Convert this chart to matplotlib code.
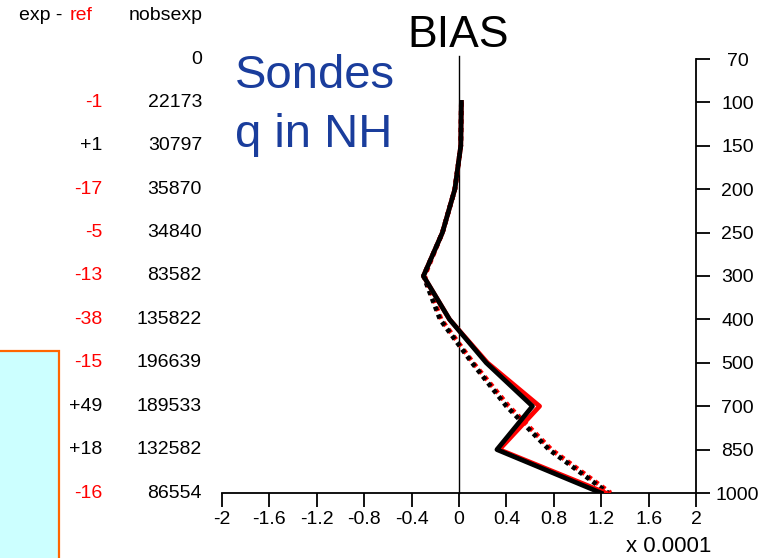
import matplotlib
matplotlib.use("Agg")
import matplotlib.pyplot as plt
from matplotlib import patches, transforms

plt.rcParams['font.family'] = ['Liberation Sans', 'DejaVu Sans']

# ---- data ----
levels = [70, 100, 150, 200, 250, 300, 400, 500, 700, 850, 1000]
line_levels = [100, 150, 200, 250, 300, 400, 500, 700, 850, 1000]
exp_solid = [0.02, 0.015, -0.035, -0.14, -0.30, -0.08, 0.23, 0.62, 0.32, 1.20]
ref_solid = [0.02, 0.015, -0.035, -0.14, -0.30, -0.08, 0.24, 0.68, 0.34, 1.24]
exp_dotted = [0.02, 0.015, -0.035, -0.14, -0.30, -0.16, 0.11, 0.40, 0.76, 1.26]
ref_dotted = [0.02, 0.015, -0.035, -0.14, -0.29, -0.15, 0.12, 0.42, 0.78, 1.28]
exp_minus_ref = ["", "-1", "+1", "-17", "-5", "-13", "-38", "-15", "+49", "+18", "-16"]
nobsexp = ["0", "22173", "30797", "35870", "34840", "83582", "135822",
           "196639", "189533", "132582", "86554"]
xticks = [-2, -1.6, -1.2, -0.8, -0.4, 0, 0.4, 0.8, 1.2, 1.6, 2]
xtick_labels = ["-2", "-1.6", "-1.2", "-0.8", "-0.4", "0", "0.4", "0.8", "1.2", "1.6", "2"]

W, H = 772, 558
fig = plt.figure(figsize=(W / 100, H / 100), dpi=100)
fig.patch.set_facecolor('white')

ax = fig.add_axes([222 / W, 1 - 493 / H, (696 - 222) / W, (493 - 59) / H])
ax.set_facecolor('none')

ypos = {lev: i for i, lev in enumerate(levels)}
yl = [ypos[l] for l in line_levels]

# lines: red (ref) first, black (exp) on top
ax.plot(ref_dotted, yl, color='red', lw=3.4, linestyle=(0, (0.9, 0.9)),
        dash_capstyle='butt', zorder=3)
ax.plot(exp_dotted, yl, color='black', lw=3.4, linestyle=(0, (0.9, 0.9)),
        dash_capstyle='butt', zorder=4)
ax.plot(ref_solid, yl, color='red', lw=3.4, zorder=5)
ax.plot(exp_solid, yl, color='black', lw=3.4, zorder=6)

ax.axvline(0, color='black', lw=1.0, zorder=2, ymin=0, ymax=1.007, clip_on=False)

ax.set_xlim(-2, 2)
ax.set_ylim(len(levels) - 1, 0)

for s in ['top', 'left']:
    ax.spines[s].set_visible(False)
for s in ['bottom', 'right']:
    ax.spines[s].set_linewidth(1.3)

ax.set_xticks(xticks)
ax.set_xticklabels(xtick_labels)
ax.tick_params(axis='x', direction='out', length=10, width=1.3, pad=3,
               labelsize=14, bottom=True, top=False)

ax.yaxis.tick_right()
ax.set_yticks(range(len(levels)))
ax.set_yticklabels([str(l) for l in levels])
ax.tick_params(axis='y', direction='out', length=10, width=1.3, pad=20,
               labelsize=14, left=False, right=True)
for lab in ax.get_yticklabels():
    lab.set_horizontalalignment('center')

# table on the left
tr = transforms.blended_transform_factory(fig.transFigure, ax.transData)
for i, (d, n) in enumerate(zip(exp_minus_ref, nobsexp)):
    if d:
        col = 'red' if d.startswith('-') else 'black'
        ax.text(102 / W, i, d, transform=tr, ha='right', va='center',
                fontsize=14, color=col, clip_on=False)
    ax.text(202 / W, i, n, transform=tr, ha='right', va='center',
            fontsize=14, color='black', clip_on=False)

fig.text(19 / W, 1 - 15 / H, "exp - ", fontsize=14, color='black', ha='left', va='center')
fig.text(70 / W, 1 - 15 / H, "ref", fontsize=14, color='red', ha='left', va='center')
fig.text(129 / W, 1 - 15 / H, "nobsexp", fontsize=14, color='black', ha='left', va='center')

# titles
fig.text(458 / W, 1 - 47 / H, "BIAS", fontsize=32, color='black', ha='center', va='baseline')
fig.text(235 / W, 1 - 88 / H, "Sondes", fontsize=34, color='#1a3d9c', ha='left', va='baseline')
fig.text(235 / W, 1 - 147 / H, "q in NH", fontsize=34, color='#1a3d9c', ha='left', va='baseline')

fig.text(626 / W, 1 - 546 / H, "x 0.0001", fontsize=16, color='black', ha='left', va='center')

# decorative box bottom-left
rect = patches.Rectangle((-5 / W, -5 / H), (59 + 5) / W, (558 - 351 + 5) / H,
                         transform=fig.transFigure, facecolor='#ccffff',
                         edgecolor='#ff6600', lw=1.6, zorder=0)
fig.patches.append(rect)

fig.savefig("out.png", dpi=100)
